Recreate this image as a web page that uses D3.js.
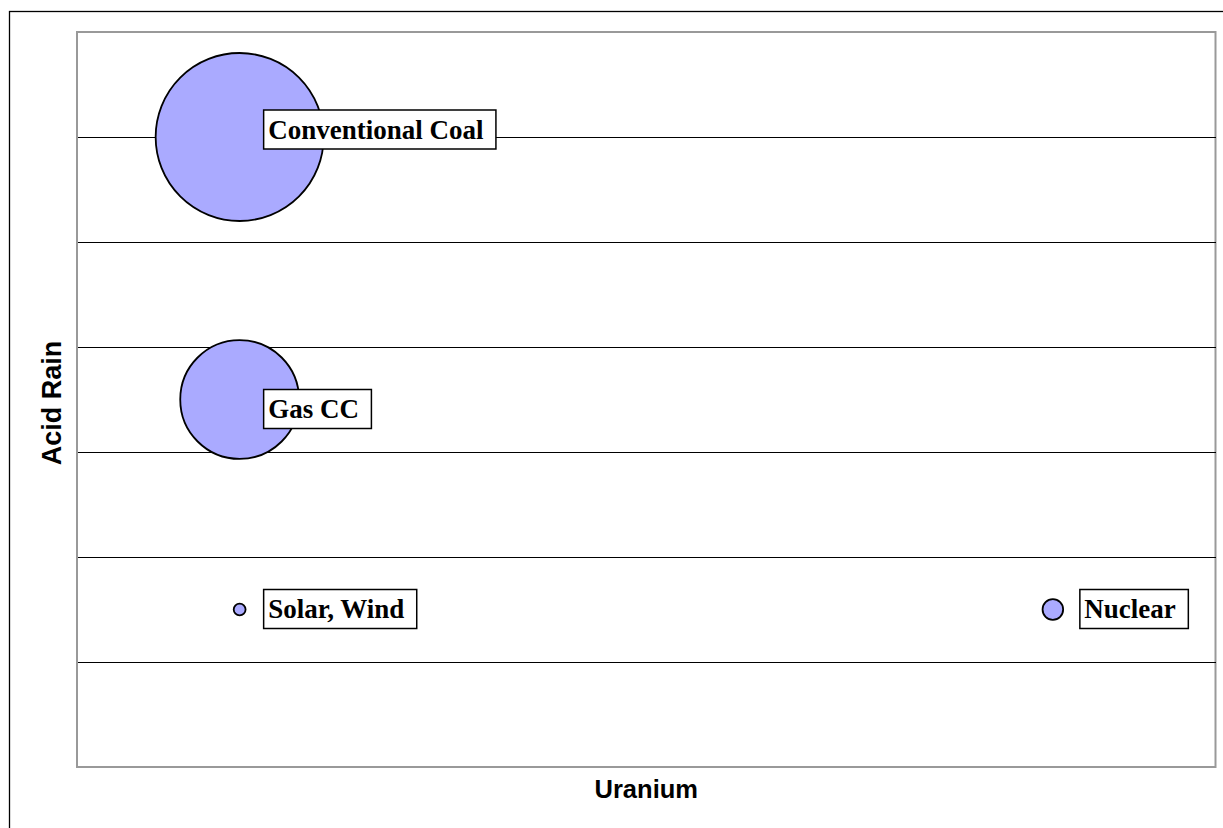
<!DOCTYPE html>
<html>
<head>
<meta charset="utf-8">
<script src="https://cdn.jsdelivr.net/npm/d3@7"></script>
<style>
  html, body { margin: 0; padding: 0; background: #fff; }
  svg { display: block; }
</style>
</head>
<body>
<svg id="chart" width="1223" height="828"></svg>
<script>
// ---- data ----
const categories = ["Conventional Coal", "Gas CC", "Solar, Wind", "Nuclear"];
const uranium    = [1, 1, 1, 6];          // x values
const acidRain   = [6, 3.5, 1.5, 1.5];    // y values
const bubbleSize = [10, 5, 0.05, 0.15];   // bubble size values
const yTicks     = [1, 2, 3, 4, 5, 6];

// ---- layout (label placement relative to bubble centre) ----
const labelDx = [24, 24, 24, 27];
const labelDy = [-27, -10, -20, -20];

const svg = d3.select("#chart");
const W = 1223, H = 828;
const plot = { left: 77, top: 32, right: 1215.5, bottom: 767 };

// outer frame (extends beyond the view on right/bottom)
svg.append("rect")
  .attr("x", 9.5).attr("y", 11.5)
  .attr("width", W + 20).attr("height", H + 20)
  .attr("fill", "#fff").attr("stroke", "#000").attr("stroke-width", 1.3);

const x = d3.scaleLinear().domain([0, 7]).range([plot.left, plot.right]);
const y = d3.scaleLinear().domain([0, 7]).range([plot.bottom, plot.top]);
const r = d3.scaleSqrt().domain([0, 10]).range([0, 84]);

// plot area
svg.append("rect")
  .attr("x", plot.left).attr("y", plot.top)
  .attr("width", plot.right - plot.left).attr("height", plot.bottom - plot.top)
  .attr("fill", "#fff").attr("stroke", "#999").attr("stroke-width", 2);

// gridlines via axis
const yAxis = d3.axisLeft(y).tickValues(yTicks)
  .tickSize(-(plot.right - plot.left - 1)).tickFormat("");
const gy = svg.append("g")
  .attr("transform", `translate(${plot.left + 1},0)`)
  .call(yAxis);
gy.select(".domain").remove();
gy.selectAll(".tick line").attr("stroke", "#000").attr("stroke-width", 1)
  .attr("shape-rendering", "crispEdges");

// bubbles
const data = categories.map((c, i) => ({
  name: c, x: uranium[i], y: acidRain[i], s: bubbleSize[i], dx: labelDx[i], dy: labelDy[i]
}));

const sorted = data.slice().sort((a, b) => b.s - a.s);
svg.append("g").selectAll("circle").data(sorted).join("circle")
  .attr("cx", d => x(d.x)).attr("cy", d => y(d.y)).attr("r", d => r(d.s))
  .attr("fill", "#aaaaff").attr("stroke", "#000").attr("stroke-width", 1.8);

// labels
const lg = svg.append("g").selectAll("g").data(data).join("g")
  .attr("transform", d => `translate(${x(d.x) + d.dx},${y(d.y) + d.dy})`);
const boxes = lg.append("rect")
  .attr("fill", "#fff").attr("stroke", "#000").attr("stroke-width", 1.5);
const texts = lg.append("text")
  .attr("x", 4.5).attr("y", 28.5)
  .attr("font-family", "'Liberation Serif', 'Times New Roman', serif")
  .attr("font-weight", "bold").attr("font-size", 27)
  .attr("fill", "#000")
  .text(d => d.name);
texts.each(function (d, i) {
  const w = this.getComputedTextLength();
  d3.select(boxes.nodes()[i])
    .attr("x", 0).attr("y", 0)
    .attr("width", w + 17).attr("height", 39);
});

// axis titles
svg.append("text")
  .attr("x", (plot.left + plot.right) / 2).attr("y", 798)
  .attr("text-anchor", "middle")
  .attr("font-family", "'Liberation Sans', Arial, sans-serif")
  .attr("font-weight", "bold").attr("font-size", 25.5)
  .text("Uranium");

svg.append("text")
  .attr("transform", "translate(61,403) rotate(-90)")
  .attr("text-anchor", "middle")
  .attr("font-family", "'Liberation Sans', Arial, sans-serif")
  .attr("font-weight", "bold").attr("font-size", 27)
  .text("Acid Rain");
</script>
</body>
</html>
